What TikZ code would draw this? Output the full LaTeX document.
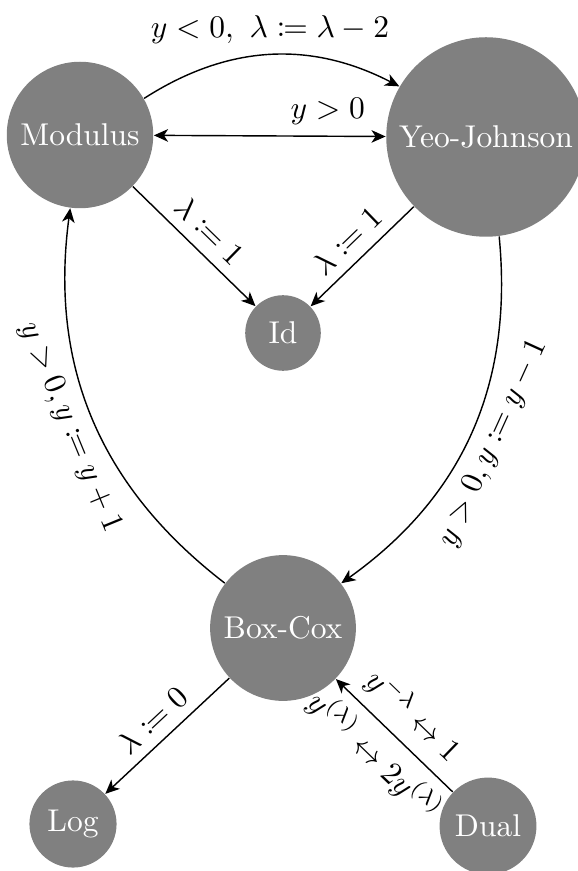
\documentclass[tikz,border=0pt]{standalone}
\usepackage{mathtools}
\usetikzlibrary{arrows.meta}
\begin{document}
\begin{tikzpicture}[x=0.3175pt,y=0.3175pt,
  state/.style={circle,fill=gray,text=white,inner sep=3.33pt},
  edge/.style={draw,line width=0.45pt},
  >={Stealth[length=4.5pt,width=4pt,inset=1.3pt]}]
\useasboundingbox (0,0) rectangle (577,-871);
\node[state] (mod) at (80,-135) {Modulus};
\node[state] (yj) at (486,-137) {Yeo-Johnson};
\node[state,minimum size=24pt] (id) at (283,-333) {Id};
\node[state] (bc) at (283,-628) {Box-Cox};
\node[state] (log) at (73,-824) {Log};
\node[state] (dual) at (488,-826) {Dual};
\draw[edge,->] (mod) to[bend left=30] node[above] {$y<0,\ \lambda\coloneqq\lambda-2$} (yj);
\draw[edge,<->] (mod) -- node[above,pos=0.75] {$y>0$} (yj);
\draw[edge,->] (mod) -- node[above,sloped] {$\lambda\coloneqq 1$} (id);
\draw[edge,->] (yj) -- node[above,sloped] {$\lambda\coloneqq 1$} (id);
\draw[edge,->] (yj) to[bend left=30] node[below,sloped] {$y>0, y\coloneqq y-1$} (bc);
\draw[edge,->] (bc) to[bend left=30] node[below,sloped] {$y>0, y\coloneqq y+1$} (mod);
\draw[edge,->] (bc) -- node[above,sloped] {$\lambda\coloneqq 0$} (log);
\draw[edge,->] (dual) -- node[above,sloped] {$y^{-\lambda}\leftrightarrow 1$} node[below,sloped] {$y^{(\lambda)}\leftrightarrow 2y^{(\lambda)}$} (bc);
\end{tikzpicture}
\end{document}
